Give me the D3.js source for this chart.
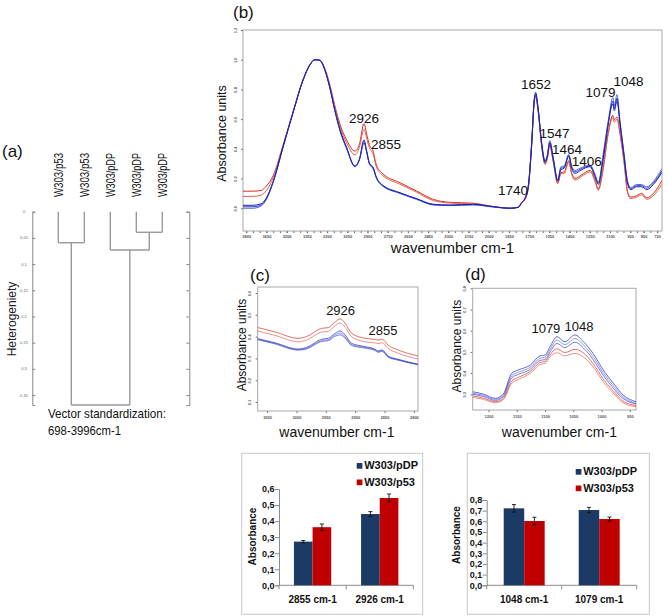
<!DOCTYPE html>
<html><head><meta charset="utf-8">
<script src="https://cdn.jsdelivr.net/npm/d3@7"></script>
<style>body{margin:0;background:#fff} svg text{font-family:"Liberation Sans",Arial,sans-serif}</style>
</head><body><svg id="chart" width="668" height="616"></svg>
<script>
// ---------------- DATA ----------------
// (a) dendrogram
const leafLabels = ["W303/p53","W303/p53","W303/pDP","W303/pDP","W303/pDP"];
const mergeHeights = [0.0393, 0.0592, 0.0731, 0.369]; // pDP2+pDP3, p53 pair, pDP cluster, root
const heteroTicks = [0,0.05,0.1,0.15,0.2,0.25,0.3,0.35];
const heteroTickLabels = ["0","0,05","0,1","0,15","0,2","0,25","0,3","0,35"];

// (b) full spectra
const wnB = [3824,3750,3690,3650,3600,3525,3451,3377,3327,3290,3253,3216,3179,3142,3104,3055,2993,2960,2926,2906,2887,2855,2837,2795,2659,2535,2412,2288,2115,1966,1842,1781,1755,1731,1706,1681,1662,1652,1632,1607,1582,1565,1547,1521,1488,1464,1440,1406,1385,1360,1310,1248,1211,1187,1150,1113,1079,1068,1048,1026,996,969,946,902,865,827,778,716];
const bPDP1 = [0.02,0.02,0.03,0.07,0.18,0.42,0.65,0.866,0.966,1.0,0.995,0.93,0.81,0.66,0.53,0.41,0.284,0.33,0.46,0.385,0.307,0.27,0.217,0.161,0.105,0.065,0.027,0.022,0.027,0.011,0.0,0.007,0.04,0.066,0.15,0.44,0.73,0.78,0.66,0.43,0.31,0.35,0.44,0.33,0.183,0.26,0.27,0.35,0.27,0.235,0.26,0.28,0.21,0.16,0.33,0.56,0.72,0.67,0.74,0.57,0.35,0.16,0.125,0.145,0.145,0.125,0.16,0.24];
const bPDP2 = [0.0,0.0,0.015,0.06,0.175,0.415,0.648,0.865,0.965,1.0,0.995,0.93,0.81,0.655,0.52,0.40,0.28,0.325,0.45,0.38,0.30,0.26,0.21,0.155,0.10,0.06,0.022,0.018,0.022,0.008,0.0,0.007,0.04,0.068,0.155,0.45,0.735,0.77,0.66,0.44,0.32,0.36,0.455,0.34,0.19,0.28,0.285,0.365,0.285,0.255,0.275,0.29,0.23,0.175,0.37,0.59,0.745,0.69,0.765,0.59,0.37,0.18,0.14,0.16,0.16,0.145,0.18,0.265];
const bPDP3 = [0.01,0.01,0.022,0.065,0.178,0.418,0.65,0.866,0.966,1.0,0.995,0.93,0.81,0.658,0.525,0.405,0.282,0.328,0.44,0.38,0.303,0.265,0.213,0.158,0.102,0.062,0.025,0.02,0.025,0.01,0.0,0.007,0.04,0.067,0.152,0.445,0.73,0.765,0.655,0.435,0.315,0.355,0.445,0.335,0.186,0.27,0.277,0.355,0.277,0.245,0.268,0.285,0.22,0.168,0.35,0.575,0.70,0.655,0.72,0.575,0.36,0.17,0.133,0.152,0.152,0.135,0.17,0.25];
const bP53a = [0.115,0.115,0.12,0.15,0.22,0.43,0.655,0.87,0.968,1.0,0.997,0.94,0.83,0.69,0.565,0.46,0.385,0.43,0.57,0.50,0.43,0.375,0.30,0.24,0.172,0.116,0.06,0.04,0.034,0.012,0.0,0.006,0.035,0.06,0.14,0.43,0.72,0.755,0.645,0.42,0.30,0.34,0.425,0.315,0.17,0.24,0.245,0.32,0.24,0.20,0.225,0.255,0.19,0.13,0.28,0.51,0.625,0.595,0.615,0.51,0.32,0.11,0.075,0.085,0.10,0.07,0.10,0.185];
const bP53b = [0.08,0.08,0.088,0.12,0.205,0.425,0.652,0.868,0.967,1.0,0.996,0.935,0.82,0.68,0.55,0.44,0.36,0.41,0.53,0.47,0.41,0.355,0.285,0.228,0.162,0.108,0.052,0.035,0.03,0.01,0.0,0.006,0.035,0.06,0.138,0.425,0.715,0.75,0.64,0.415,0.295,0.335,0.42,0.31,0.165,0.235,0.235,0.31,0.23,0.19,0.215,0.245,0.18,0.12,0.265,0.50,0.61,0.58,0.60,0.50,0.31,0.10,0.065,0.075,0.09,0.06,0.085,0.16];
const bXTicks = [3800,3650,3500,3350,3200,3050,2900,2750,2600,2450,2300,2150,2000,1850,1700,1550,1400,1250,1100,950,850,750];
const bYTicks = [0,0.2,0.4,0.6,0.8,1.0,1.2];
const bPeaks = ["2926","2855","1740","1652","1547","1464","1406","1079","1048"];

// (c) CH stretching region
const wnC = [3068,3037,2997,2983,2957,2946,2934,2926,2917,2906,2883,2866,2861,2854,2844,2827,2793];
const cP53a = [0.443,0.422,0.392,0.400,0.438,0.441,0.468,0.481,0.461,0.415,0.392,0.387,0.384,0.388,0.361,0.339,0.311];
const cP53b = [0.427,0.406,0.376,0.384,0.421,0.424,0.450,0.462,0.443,0.399,0.376,0.371,0.368,0.372,0.346,0.324,0.297];
const cPDP1 = [0.392,0.372,0.343,0.350,0.388,0.392,0.415,0.426,0.407,0.369,0.354,0.342,0.334,0.339,0.311,0.296,0.273];
const cPDP2 = [0.389,0.369,0.340,0.346,0.382,0.386,0.408,0.416,0.399,0.363,0.350,0.339,0.331,0.335,0.308,0.294,0.272];
const cPDP3 = [0.387,0.367,0.338,0.343,0.378,0.381,0.402,0.408,0.393,0.359,0.347,0.336,0.328,0.332,0.306,0.292,0.271];
const cXTicks = [3050,3000,2950,2900,2850,2800];
const cYTicks = [0.1,0.2,0.3,0.4,0.5,0.6];
const cPeaks = ["2926","2855"];

// (d) carbohydrate region
const wnD = [1228,1209,1188,1174,1159,1147,1126,1109,1100,1091,1079,1065,1047,1032,1015,997,979,962,939];
const dPDP1 = [0.312,0.301,0.281,0.301,0.399,0.415,0.438,0.481,0.485,0.525,0.572,0.548,0.580,0.548,0.493,0.415,0.352,0.297,0.265];
const dPDP2 = [0.305,0.295,0.276,0.294,0.388,0.404,0.428,0.470,0.475,0.512,0.556,0.534,0.563,0.533,0.478,0.402,0.340,0.288,0.258];
const dPDP3 = [0.300,0.290,0.271,0.288,0.378,0.394,0.418,0.460,0.464,0.500,0.540,0.520,0.546,0.518,0.464,0.390,0.328,0.280,0.254];
const dP53a = [0.293,0.282,0.265,0.280,0.362,0.380,0.408,0.450,0.455,0.488,0.515,0.497,0.512,0.495,0.445,0.372,0.315,0.268,0.247];
const dP53b = [0.286,0.276,0.260,0.274,0.352,0.370,0.399,0.440,0.446,0.478,0.496,0.481,0.493,0.476,0.430,0.359,0.305,0.260,0.241];
const dXTicks = [1200,1150,1100,1050,1000,950];
const dYTicks = [0.3,0.4,0.5,0.6,0.7,0.8];
const dPeaks = ["1079","1048"];

// bar charts
const barSeries = ["W303/pDP","W303/p53"];
const barCatsL = ["2855 cm-1","2926 cm-1"];
const barPDP_L = [0.272,0.444], barP53_L = [0.362,0.544];
const errPDP_L = [0.007,0.015], errP53_L = [0.02,0.025];
const barYTicksL = [0,0.1,0.2,0.3,0.4,0.5,0.6];
const barCatsR = ["1048 cm-1","1079 cm-1"];
const barPDP_R = [0.722,0.706], barP53_R = [0.603,0.622];
const errPDP_R = [0.035,0.025], errP53_R = [0.035,0.018];
const barYTicksR = [0,0.1,0.2,0.3,0.4,0.5,0.6,0.7,0.8];

// ---------------- DRAWING ----------------
const svg = d3.select("#chart");
const BLUES = ["#1a24b0","#5a68dc","#3440c8"];
const REDS = ["#d62e1c","#e4604f"];
const commaFmt = d => d3.format(".1f")(d).replace(".", ",");

function panelLabel(t, x, y){
  svg.append("text").attr("x",x).attr("y",y).attr("font-size",17).attr("fill","#111").text(t);
}

// ---- (a) dendrogram ----
(function(){
  const tree = {h: mergeHeights[3], children:[
    {h: mergeHeights[1], children:[{leaf:0},{leaf:1}]},
    {h: mergeHeights[2], children:[{leaf:2},{h: mergeHeights[0], children:[{leaf:3},{leaf:4}]}]}
  ]};
  const root = d3.hierarchy(tree);
  const xL = d3.scalePoint().domain(d3.range(leafLabels.length)).range([58.3,162.3]);
  const yH = d3.scaleLinear().domain([0,0.369]).range([211.7,405]);
  root.eachAfter(n => {
    if (n.children) { n.px = d3.mean(n.children, c => c.px); n.py = yH(n.data.h); }
    else { n.px = xL(n.data.leaf); n.py = yH(0); }
  });
  const g = svg.append("g");
  const axL = d3.axisRight(yH).tickValues(heteroTicks).tickSize(3).tickFormat("");
  g.append("g").attr("transform","translate(32.3,0)").call(axL)
   .call(s=>{s.select(".domain").attr("stroke","#888");s.selectAll(".tick line").attr("stroke","#888");});
  g.append("g").selectAll("text").data(heteroTicks).join("text")
   .attr("x",24).attr("y",d=>yH(d)+1.5).attr("text-anchor","middle").attr("font-size",4).attr("fill","#666")
   .text((d,i)=>heteroTickLabels[i]);
  const axR = d3.axisLeft(yH).tickValues(heteroTicks).tickSize(3).tickFormat("");
  g.append("g").attr("transform","translate(189.3,0)").call(axR)
   .call(s=>{s.select(".domain").attr("stroke","#888");s.selectAll(".tick line").attr("stroke","#888");});
  root.each(n => {
    if (!n.children) return;
    g.append("line").attr("x1",n.children[0].px).attr("x2",n.children[1].px)
     .attr("y1",n.py).attr("y2",n.py).attr("stroke","#9a9a9a").attr("stroke-width",1.4);
    n.children.forEach(c => g.append("line").attr("x1",c.px).attr("x2",c.px)
     .attr("y1",c.py).attr("y2",n.py).attr("stroke","#9a9a9a").attr("stroke-width",1.4));
  });
  root.leaves().forEach(l => {
    g.append("text").attr("transform",`translate(${l.px+5},197) rotate(-90)`)
     .attr("font-size",13.5).attr("textLength",44).attr("lengthAdjust","spacingAndGlyphs")
     .attr("fill","#111").text(leafLabels[l.data.leaf]);
  });
  g.append("text").attr("transform","translate(16,319) rotate(-90)").attr("text-anchor","middle")
   .attr("font-size",12).attr("fill","#222").text("Heterogeniety");
  g.append("text").attr("x",48).attr("y",418).attr("font-size",13).attr("textLength",118)
   .attr("lengthAdjust","spacingAndGlyphs").attr("fill","#111").text("Vector standardization:");
  g.append("text").attr("x",48).attr("y",435).attr("font-size",13).attr("textLength",73)
   .attr("lengthAdjust","spacingAndGlyphs").attr("fill","#111").text("698-3996cm-1");
  panelLabel("(a)",2,157);
})();

// ---- spectrum panels ----
function spectrum(cfg){
  const x = d3.scaleLinear().domain(cfg.xDomain).range([cfg.left,cfg.right]);
  const y = d3.scaleLinear().domain(cfg.yDomain).range([cfg.bottom,cfg.top]);
  const g = svg.append("g");
  const id = "clip"+cfg.name;
  g.append("clipPath").attr("id",id).append("rect")
   .attr("x",cfg.left).attr("y",cfg.top).attr("width",cfg.right-cfg.left).attr("height",cfg.bottom-cfg.top);
  const xa = d3.axisBottom(x).tickValues(cfg.xTicks).tickSize(2).tickFormat(d3.format("d"));
  const gx = g.append("g").attr("transform",`translate(0,${cfg.bottom})`).call(xa);
  gx.select(".domain").remove();
  gx.selectAll(".tick line").attr("stroke","#666");
  gx.selectAll(".tick text").attr("font-size",cfg.tickFont).attr("font-weight","bold").attr("fill","#555").attr("dy",cfg.tickDy);
  if (cfg.minor){
    const gm = g.append("g").attr("transform",`translate(0,${cfg.bottom})`)
      .call(d3.axisBottom(x).tickValues(cfg.minor).tickSize(2).tickFormat(""));
    gm.select(".domain").remove(); gm.selectAll(".tick line").attr("stroke","#666");
  }
  const ya = d3.axisLeft(y).tickValues(cfg.yTicks).tickSize(2).tickFormat(d3.format(".1f"));
  const gy = g.append("g").attr("transform",`translate(${cfg.left},0)`).call(ya);
  gy.select(".domain").remove();
  gy.selectAll(".tick line").attr("stroke","#666");
  gy.selectAll(".tick text").attr("font-size",cfg.tickFont).attr("font-weight","bold").attr("fill","#555")
    .attr("text-anchor","middle").attr("x",0).attr("dy",0)
    .attr("transform",`translate(${-cfg.ylabOff},0) rotate(-90)`);
  g.append("rect").attr("x",cfg.left).attr("y",cfg.top).attr("width",cfg.right-cfg.left)
   .attr("height",cfg.bottom-cfg.top).attr("fill","none").attr("stroke","#a8a8a8").attr("stroke-width",1);
  const lg = g.append("g").attr("clip-path",`url(#${id})`);
  cfg.series.forEach(s => {
    const line = d3.line().x((d,i)=>x(cfg.wn[i])).y(d=>y(d)).curve(d3.curveMonotoneX);
    lg.append("path").datum(s.v).attr("d",line).attr("fill","none")
      .attr("stroke",s.c).attr("stroke-width",cfg.lw).attr("stroke-opacity",cfg.op);
  });
  cfg.peaks.forEach((p,i)=>{
    g.append("text").attr("x",x(+p)+cfg.peakDx[i]).attr("y",cfg.peakY[i]).attr("text-anchor","middle")
     .attr("font-size",cfg.peakFont).attr("fill","#111").text(p);
  });
  g.append("text").attr("transform",`translate(${cfg.yLabX},${(cfg.top+cfg.bottom)/2+cfg.yLabDy}) rotate(-90)`)
   .attr("text-anchor","middle").attr("font-size",cfg.yLabFont).attr("fill","#111").text("Absorbance units");
  g.append("text").attr("x",(cfg.left+cfg.right)/2+cfg.xLabDx).attr("y",cfg.xLabY).attr("text-anchor","middle")
   .attr("font-size",cfg.xLabFont).attr("fill","#111").text("wavenumber cm-1");
}

spectrum({name:"b", left:243, right:662, top:30, bottom:231,
  xDomain:[3824,714], yDomain:[-0.153,1.2], wn:wnB,
  xTicks:bXTicks, minor:d3.range(3800,700,-50), yTicks:bYTicks, tickFont:4, tickDy:"0.6em", ylabOff:6,
  series:[{v:bP53a,c:REDS[0]},{v:bP53b,c:REDS[1]},{v:bPDP2,c:BLUES[1]},{v:bPDP3,c:BLUES[2]},{v:bPDP1,c:BLUES[0]}],
  lw:1, op:1, peaks:bPeaks, peakDx:[0,12.5,-10.8,0.5,4.7,6,18,-12.3,11.5],
  peakY:[122.7,149,195,89.3,138.3,154.3,166,96.7,85.7], peakFont:13.5,
  yLabX:226, yLabDy:3, yLabFont:12.5, xLabDx:0, xLabY:253, xLabFont:15});

spectrum({name:"c", left:257.7, right:418, top:287, bottom:411,
  xDomain:[3066,2793], yDomain:[0.0587,0.6275], wn:wnC,
  xTicks:cXTicks, minor:null, yTicks:cYTicks, tickFont:4, tickDy:"0.7em", ylabOff:7,
  series:[{v:cP53a,c:REDS[0]},{v:cP53b,c:REDS[1]},{v:cPDP3,c:BLUES[2]},{v:cPDP2,c:BLUES[1]},{v:cPDP1,c:BLUES[0]}],
  lw:0.8, op:0.85, peaks:cPeaks, peakDx:[0.7,1.4], peakY:[315,335], peakFont:13,
  yLabX:246, yLabDy:-4, yLabFont:12, xLabDx:-1, xLabY:437, xLabFont:14});

spectrum({name:"d", left:472.7, right:636, top:288.3, bottom:410,
  xDomain:[1228,939], yDomain:[0.226,0.8], wn:wnD,
  xTicks:dXTicks, minor:null, yTicks:dYTicks, tickFont:4, tickDy:"0.7em", ylabOff:7,
  series:[{v:dP53b,c:REDS[1]},{v:dP53a,c:REDS[0]},{v:dPDP3,c:BLUES[2]},{v:dPDP2,c:BLUES[1]},{v:dPDP1,c:BLUES[0]}],
  lw:0.8, op:0.85, peaks:dPeaks, peakDx:[-11,4.6], peakY:[333.3,331], peakFont:13,
  yLabX:461, yLabDy:-3, yLabFont:12, xLabDx:5, xLabY:437, xLabFont:14});

panelLabel("(b)",233,18);
panelLabel("(c)",250,281);
panelLabel("(d)",465,280);

// ---- bar charts ----
function bars(cfg){
  const g = svg.append("g");
  g.append("rect").attr("x",cfg.box[0]).attr("y",cfg.box[1]).attr("width",cfg.box[2]-cfg.box[0])
   .attr("height",cfg.box[3]-cfg.box[1]).attr("fill","#fff").attr("stroke","#c8c8c8");
  const x0 = d3.scaleBand().domain(cfg.cats).range([cfg.x0,cfg.x1]).paddingInner(0).paddingOuter(0);
  const x1 = d3.scaleBand().domain(barSeries).range([0,x0.bandwidth()]).paddingInner(0).paddingOuter(cfg.pad);
  const y = d3.scaleLinear().domain([0,cfg.ymax]).range([585.3,cfg.ytop]);
  const cols = ["#1c3a66","#c00000"];
  const vals = [cfg.pdp,cfg.p53], errs=[cfg.epdp,cfg.ep53];
  const gy = g.append("g").attr("transform",`translate(${cfg.x0},0)`)
    .call(d3.axisLeft(y).tickValues(cfg.yticks).tickSize(4).tickFormat(commaFmt));
  gy.select(".domain").attr("stroke","#8c8c8c");
  gy.selectAll(".tick line").attr("stroke","#8c8c8c");
  gy.selectAll(".tick text").attr("font-size",9).attr("font-weight","bold").attr("fill","#111").attr("x",-4.5);
  const gx = g.append("g").attr("transform","translate(0,585.3)");
  gx.append("line").attr("x1",cfg.x0).attr("x2",cfg.x1).attr("stroke","#8c8c8c");
  [cfg.x0, ...cfg.cats.map(c=>x0(c)+x0.bandwidth())].forEach(t=>
    gx.append("line").attr("x1",t).attr("x2",t).attr("y1",0).attr("y2",4).attr("stroke","#8c8c8c"));
  cfg.cats.forEach(c=>gx.append("text").attr("x",x0(c)+x0.bandwidth()/2).attr("y",18)
    .attr("text-anchor","middle").attr("font-size",10).attr("font-weight","bold").attr("fill","#111").text(c));
  barSeries.forEach((s,si)=>{
    cfg.cats.forEach((c,ci)=>{
      const v = vals[si][ci], e = errs[si][ci];
      const bx = x0(c)+x1(s), bw = x1.bandwidth();
      g.append("rect").attr("x",bx).attr("y",y(v)).attr("width",bw).attr("height",y(0)-y(v)).attr("fill",cols[si]);
      const cx = bx+bw/2;
      g.append("line").attr("x1",cx).attr("x2",cx).attr("y1",y(v+e)).attr("y2",y(v-e)).attr("stroke","#111").attr("stroke-width",0.9);
      [v+e,v-e].forEach(t=>g.append("line").attr("x1",cx-2).attr("x2",cx+2).attr("y1",y(t)).attr("y2",y(t)).attr("stroke","#111").attr("stroke-width",0.9));
    });
  });
  barSeries.forEach((s,si)=>{
    const ly = cfg.leg[1]+si*cfg.leg[2];
    g.append("rect").attr("x",cfg.leg[0]).attr("y",ly-6).attr("width",5.7).attr("height",5.7).attr("fill",cols[si]);
    g.append("text").attr("x",cfg.leg[0]+7.5).attr("y",ly).attr("font-size",11).attr("font-weight","bold").attr("fill","#111").text(s);
  });
  g.append("text").attr("transform",`translate(${cfg.ylab[0]},${cfg.ylab[1]}) rotate(-90)`).attr("text-anchor","middle")
   .attr("font-size",10).attr("font-weight","bold").attr("fill","#111").text("Absorbance");
}
bars({box:[241.7,453.3,422.7,614.3], x0:279, x1:413.3, cats:barCatsL, pad:0.8,
  ymax:0.6, ytop:489, pdp:barPDP_L, p53:barP53_L, epdp:errPDP_L, ep53:errP53_L, yticks:barYTicksL,
  leg:[356.7,469,16.5], ylab:[256,536.5]});
bars({box:[467.3,453.3,649.3,614.3], x0:486.7, x1:636.7, cats:barCatsR, pad:0.83,
  ymax:0.8, ytop:500, pdp:barPDP_R, p53:barP53_R, epdp:errPDP_R, ep53:errP53_R, yticks:barYTicksR,
  leg:[575.7,475,16.5], ylab:[459.5,535]});
</script></body></html>
